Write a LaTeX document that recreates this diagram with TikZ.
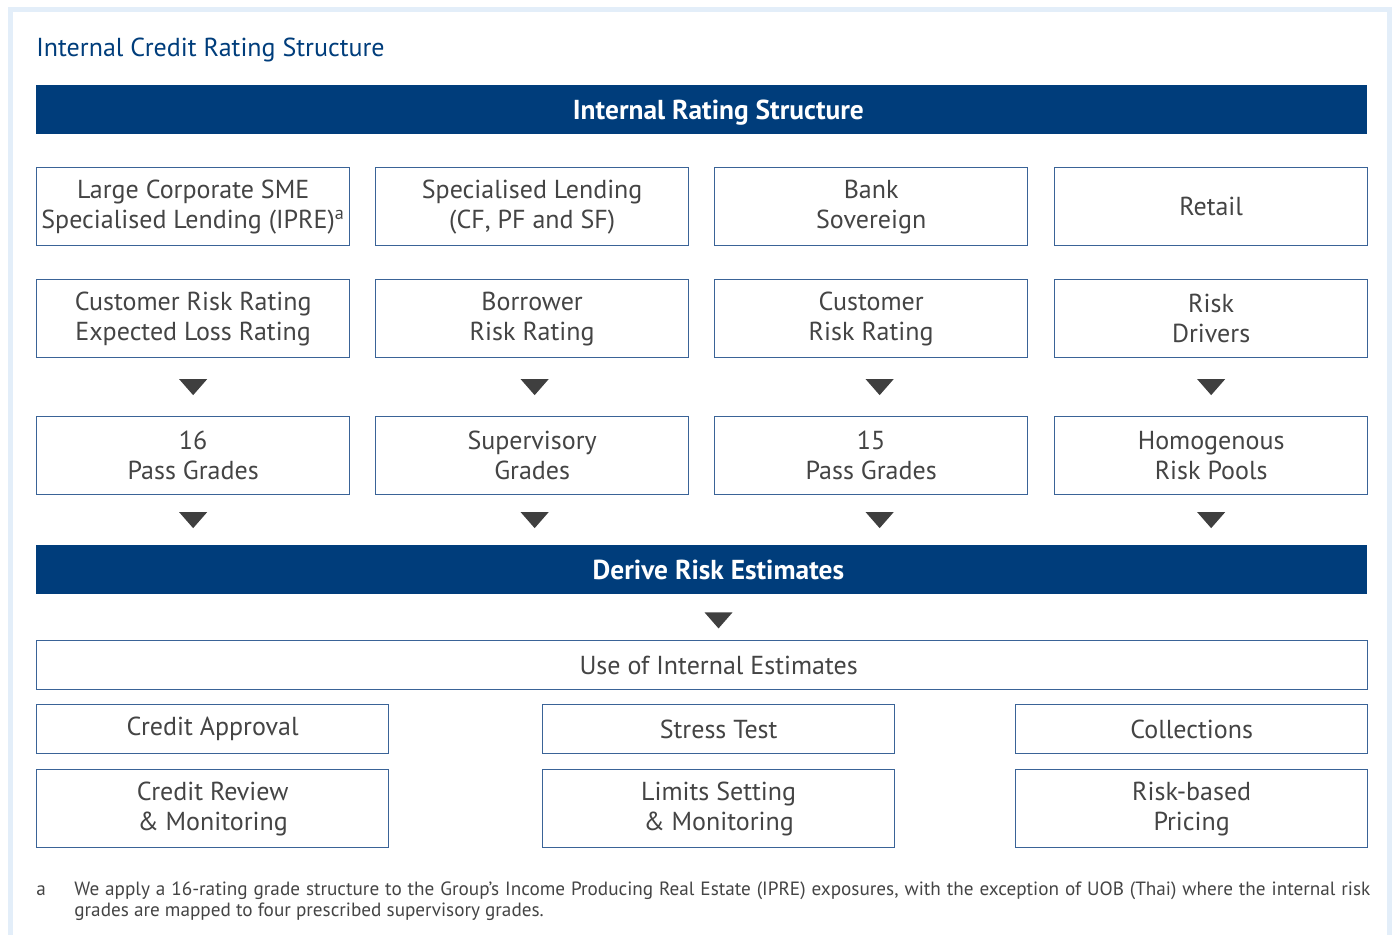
\documentclass[tikz,border=0pt]{standalone}
\usepackage{fontspec}
\setmainfont{PT Sans}
\usetikzlibrary{calc}
\definecolor{uobblue}{HTML}{003D7B}
\definecolor{boxline}{HTML}{3A6397}
\definecolor{txtgrey}{HTML}{444444}
\definecolor{framecol}{HTML}{E3EEF9}
\definecolor{ptrgrey}{HTML}{3F3F3F}
\tikzset{
box/.style={draw=boxline, line width=0.65pt, fill=white, text=txtgrey, align=center,
  minimum width=156.5pt, minimum height=39pt, inner sep=0pt, anchor=north west,
  font=\fontsize{13}{15}\selectfont},
usebox/.style={box, minimum width=176pt},
thinbox/.style={usebox, minimum height=24.5pt},
banner/.style={fill=uobblue, minimum width=665.5pt, minimum height=24.5pt,
  inner sep=0pt, anchor=north west},
bannertext/.style={text=white, xshift=8.25pt, inner sep=0pt, text height=9.6pt, text depth=0pt,
  font=\fontsize{13.7}{15}\selectfont\bfseries},
shiftedtext/.style={text=txtgrey, xshift=8.25pt, font=\fontsize{13}{15}\selectfont},
pointer/.pic={
  \fill[ptrgrey] (-14,-8) -- (14,-8) -- (0,8) -- cycle;
  }
}
\begin{document}
\begin{tikzpicture}[x=0.5pt, y=-0.5pt]
\useasboundingbox (0,0) rectangle (1392,935);
% frame
\draw[framecol, line width=2.5pt] (10.5,9.5) rectangle (1389.5,990);
\node[anchor=base west, inner sep=0pt, text=uobblue, font=\fontsize{13}{15}\selectfont]
  (hdr) at (36,57) {Internal Credit Rating Structure};
\node[banner, label={[bannertext]center:Internal Rating Structure}] (rate) at (36,85) {};
% portfolios
\node[box] (lc) at (36,167) {Large Corporate SME\\Specialised Lending (IPRE)\textsuperscript{a}};
\node[box] (sl) at (375,167) {Specialised Lending\\(CF, PF and SF)};
\node[box] (bank) at (714,167) {Bank\\Sovereign};
\node[box] (retail) at (1054,167) {Retail};
% rating systems
\node[box] (lcrate) at (36,279) {Customer Risk Rating\\Expected Loss Rating};
\node[box] (slrate) at (375,279) {Borrower\\Risk Rating};
\node[box] (bankrate) at (714,279) {Customer\\Risk Rating};
\node[box] (riskdrv) at (1054,279) {Risk\\Drivers};
% grades
\node[box] (lcgrade) at (36,416) {16\\Pass Grades};
\node[box] (slgrade) at (375,416) {Supervisory\\Grades};
\node[box] (bankgrade) at (714,416) {15\\Pass Grades};
\node[box] (pools) at (1054,416) {Homogenous\\Risk Pools};
\node[banner, label={[bannertext]center:Derive Risk Estimates}] (derive) at (36,545) {};
\pic at ($(lcrate.south)!0.5!(lcgrade.north)$) {pointer};
\pic[xshift=1.25pt] at ($(slrate.south)!0.5!(slgrade.north)$) {pointer};
\pic[xshift=4.25pt] at ($(bankrate.south)!0.5!(bankgrade.north)$) {pointer};
\pic at ($(riskdrv.south)!0.5!(pools.north)$) {pointer};
\pic at ($(lcgrade.south)!0.5!(lcgrade.south|-derive.north)$) {pointer};
\pic[xshift=1.25pt] at ($(slgrade.south)!0.5!(slgrade.south|-derive.north)$) {pointer};
\pic[xshift=4.25pt] at ($(bankgrade.south)!0.5!(bankgrade.south|-derive.north)$) {pointer};
\pic at ($(pools.south)!0.5!(pools.south|-derive.north)$) {pointer};
% uses
\node[box, minimum width=665.5pt, minimum height=24.5pt,
  label={[shiftedtext]center:Use of Internal Estimates}] (use) at (36,640) {};
\pic[xshift=8.25pt, yshift=-1.5pt] at ($(derive.south)!0.5!(use.north)$) {pointer};
\node[thinbox] (approval) at (36,704) {Credit Approval};
\node[thinbox] (stress) at (542,704) {Stress Test};
\node[thinbox] (collect) at (1015,704) {Collections};
\node[usebox] (review) at (36,769) {Credit Review\\\& Monitoring};
\node[usebox] (limits) at (542,769) {Limits Setting\\\& Monitoring};
\node[usebox] (pricing) at (1015,769) {Risk-based\\Pricing};
% footnote
\node[anchor=base west, inner sep=0pt, text=txtgrey, font=\fontsize{9.6}{10}\selectfont]
  (mark) at (36,895) {a};
\node[anchor=north west, inner sep=0pt, text=txtgrey, align=left, font=\fontsize{9.6}{10.5}\selectfont]
  (note) at (74,881.5) {\makebox[648pt][s]{We apply a 16-rating grade structure to the Group's Income Producing Real Estate (IPRE) exposures, with the exception of UOB (Thai) where the internal risk}\\grades are mapped to four prescribed supervisory grades.};
\end{tikzpicture}
\end{document}
